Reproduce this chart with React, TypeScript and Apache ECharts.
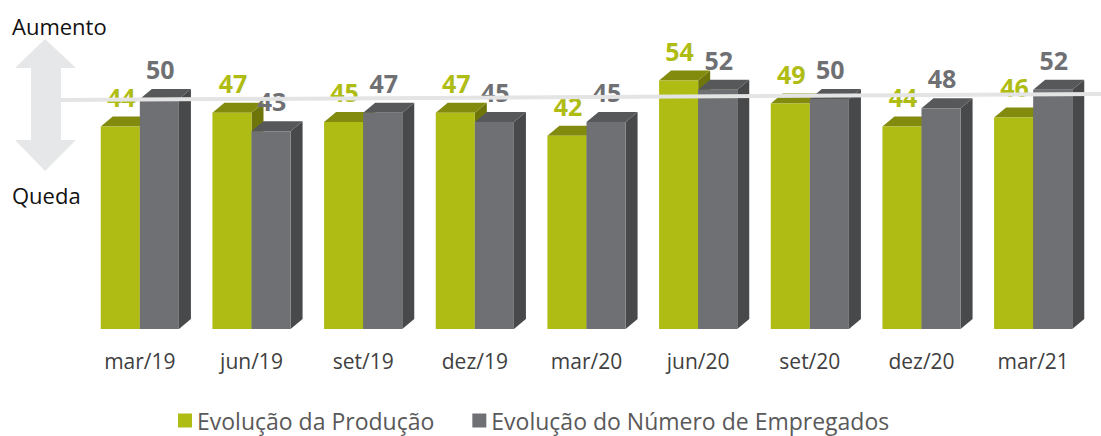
import React, { useEffect, useRef } from "react";
import * as echarts from "echarts";

const categories = ["mar/19", "jun/19", "set/19", "dez/19", "mar/20", "jun/20", "set/20", "dez/20", "mar/21"];
const producao = [44, 47, 45, 47, 42, 54, 49, 44, 46];
const empregados = [50, 43, 47, 45, 45, 52, 50, 48, 52];
const seriesNames = ["Evolução da Produção", "Evolução do Número de Empregados"];
const referenceValue = 50;

const GREEN = { front: "#afbc14", top: "#828b0e", side: "#6e760b", label: "#afbc14" };
const GREY = { front: "#6f7073", top: "#57585a", side: "#48494b", label: "#6f7073" };
const FONT = "'Open Sans', sans-serif";

function makeRender(colors: any, isLeft: boolean) {
  return (params: any, api: any) => {
    const i = api.value(0);
    const v = api.value(1);
    const base = api.coord([i, 0]);
    const top = api.coord([i, v]);
    const band = api.size([1, 0])[0];
    const bw = band * 0.35;
    const cx = base[0];
    const x0 = isLeft ? cx - bw : cx;
    const yb = base[1];
    const yt = top[1];
    const dx = 12;
    const dy = 10;
    return {
      type: "group",
      children: [
        {
          type: "polygon",
          shape: { points: [[x0 + bw, yt], [x0 + bw + dx, yt - dy], [x0 + bw + dx, yb - dy], [x0 + bw, yb]] },
          style: { fill: colors.side },
        },
        {
          type: "polygon",
          shape: { points: [[x0, yt], [x0 + dx, yt - dy], [x0 + bw + dx, yt - dy], [x0 + bw, yt]] },
          style: { fill: colors.top },
        },
        {
          type: "rect",
          shape: { x: x0, y: yt, width: bw, height: yb - yt },
          style: { fill: colors.front },
        },
        {
          type: "text",
          x: x0 + bw / 2 + 1,
          y: yt - 30,
          style: {
            text: String(v),
            fill: colors.label,
            font: `bold 25px ${FONT}`,
            align: "center",
            verticalAlign: "middle",
          },
        },
      ],
    };
  };
}

export default function App() {
  const ref = useRef<HTMLDivElement>(null);
  useEffect(() => {
    const chart = echarts.init(ref.current!, null, { renderer: "svg" });
    const option: any = {
      animation: false,
      grid: { left: 84, right: 12, top: 53, bottom: 107 },
      xAxis: {
        type: "category",
        data: categories,
        axisLine: { show: false },
        axisTick: { show: false },
        axisLabel: { fontSize: 21, color: "#404040", margin: 21, fontFamily: FONT },
      },
      yAxis: { type: "value", min: 0, max: 60, show: false },
      legend: {
        data: seriesNames,
        left: 173,
        top: 404,
        icon: "rect",
        itemWidth: 14,
        itemHeight: 14,
        itemGap: 38,
        textStyle: { fontSize: 23, color: "#595959", fontFamily: FONT },
      },
      series: [
        {
          name: seriesNames[0],
          type: "custom",
          itemStyle: { color: GREEN.front },
          renderItem: makeRender(GREEN, true),
          data: producao.map((v, i) => [i, v]),
          clip: false,
        },
        {
          name: seriesNames[1],
          type: "custom",
          itemStyle: { color: GREY.front },
          renderItem: makeRender(GREY, false),
          data: empregados.map((v, i) => [i, v]),
          clip: false,
        },
      ],
    };
    chart.setOption(option);
    const yRef = chart.convertToPixel({ yAxisIndex: 0 }, referenceValue) as number;
    chart.setOption({
      graphic: [
        {
          type: "polygon",
          z: 10,
          shape: {
            points: [[45, 39], [76, 68], [61, 68], [61, 140], [76, 140], [45, 171], [15, 140], [31, 140], [31, 68], [15, 68]],
          },
          style: { fill: "#e6e7e8" },
        },
        {
          type: "line",
          z: 20,
          shape: { x1: 60, y1: yRef + 1, x2: 1101, y2: yRef - 5 },
          style: { stroke: "#e4e4e4", lineWidth: 4 },
        },
        {
          type: "text",
          z: 20,
          x: 12,
          y: 26,
          style: { text: "Aumento", font: `22px ${FONT}`, fill: "#111", verticalAlign: "middle" },
        },
        {
          type: "text",
          z: 20,
          x: 12,
          y: 195,
          style: { text: "Queda", font: `22px ${FONT}`, fill: "#111", verticalAlign: "middle" },
        },
      ],
    });
    return () => chart.dispose();
  }, []);
  return <div ref={ref} style={{ width: 1101, height: 436, position: "absolute", left: 0, top: 0 }} />;
}
